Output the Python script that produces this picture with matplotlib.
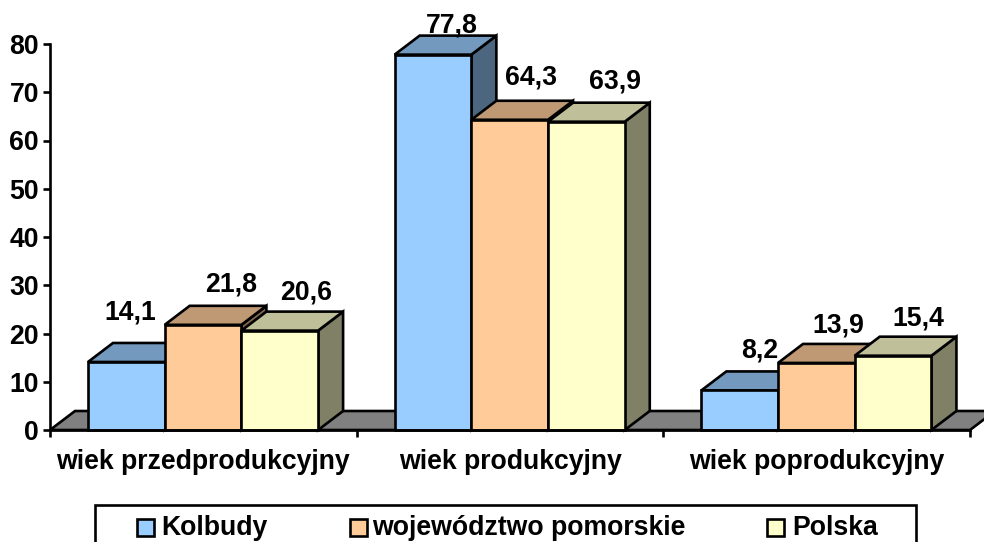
import numpy as np
import matplotlib
matplotlib.use('Agg')
import matplotlib.pyplot as plt
from matplotlib.patches import Polygon, Rectangle
from matplotlib.colors import to_rgb

plt.rcParams['font.family'] = ['Liberation Sans', 'DejaVu Sans']
plt.rcParams['font.weight'] = 'bold'

categories = ['wiek przedprodukcyjny', 'wiek produkcyjny', 'wiek poprodukcyjny']
series_names = ['Kolbudy', 'województwo pomorskie', 'Polska']
kolbudy = [14.1, 77.8, 8.2]
pomorskie = [21.8, 64.3, 13.9]
polska = [20.6, 63.9, 15.4]
value_labels = [['14,1', '77,8', '8,2'], ['21,8', '64,3', '13,9'], ['20,6', '63,9', '15,4']]
colors = ['#99CCFF', '#FFCC99', '#FFFFCC']

# label offsets from the front top left corner of each bar, in pixels
label_dx = [[42, 57, 58], [66, 60, 60], [65, 67, 64]]
label_dy = [[49, 29, 40], [40, 42, 37], [38, 40, 37]]

W, H = 984, 542
LW = 1.9
FS = 19.2
fig = plt.figure(figsize=(W / 100, H / 100), dpi=100)
ax = fig.add_axes([50 / W, 1 - 430 / H, 920 / W, 386 / H])
ax.set_xlim(0, 3)
ax.set_ylim(0, 80)

# fake 3d depth
dx = 25 * 3 / 920
dy = 19 * 80 / 386
bar_w = 76.7 * 3 / 920
margin = 38 * 3 / 920


def shade(color, f):
    return tuple(c * f for c in to_rgb(color))


def poly(points, color, z):
    ax.add_patch(Polygon(points, closed=True, facecolor=color, edgecolor='black',
                         linewidth=LW, joinstyle='miter', clip_on=False, zorder=z))


# floor
poly([(0, 0), (3, 0), (3 + dx, dy), (dx, dy)], '#808080', 1)

z = 2
for s, values in enumerate([kolbudy, pomorskie, polska]):
    for g, v in enumerate(values):
        x0 = g + margin + s * bar_w
        x1 = x0 + bar_w
        poly([(x1, 0), (x1 + dx, dy), (x1 + dx, v + dy), (x1, v)], shade(colors[s], 0.5), z)
        poly([(x0, v), (x1, v), (x1 + dx, v + dy), (x0 + dx, v + dy)], shade(colors[s], 0.75), z)
        poly([(x0, 0), (x1, 0), (x1, v), (x0, v)], colors[s], z)
        ax.annotate(value_labels[s][g], (x0, v),
                    xytext=(label_dx[s][g] * 0.72, label_dy[s][g] * 0.72),
                    textcoords='offset points', ha='center', va='center',
                    fontsize=FS, fontweight='bold', color='black',
                    annotation_clip=False, zorder=20)
    z += 1

for side in ['top', 'right']:
    ax.spines[side].set_visible(False)
for side in ['left', 'bottom']:
    ax.spines[side].set_linewidth(LW)
    ax.spines[side].set_zorder(10)

ax.set_yticks(np.arange(0, 81, 10))
ax.tick_params(axis='y', length=5, width=LW, labelsize=FS, pad=3)
ax.set_xticks([0, 1, 2, 3])
ax.set_xticklabels([])
ax.tick_params(axis='x', which='major', length=5, width=LW)
ax.set_xticks([0.5, 1.5, 2.5], minor=True)
ax.set_xticklabels(categories, minor=True, fontsize=FS, fontweight='bold')
ax.tick_params(axis='x', which='minor', length=0, pad=14)

# legend box runs off the bottom of the picture
fig.add_artist(Rectangle((95 / W, 1 - 560 / H), 821 / W, 55 / H, transform=fig.transFigure,
                         facecolor='white', edgecolor='black', linewidth=LW))
swatch_x = [137, 350, 767]
text_x = [161, 372, 792]
for name, c, sx, tx in zip(series_names, colors, swatch_x, text_x):
    fig.add_artist(Rectangle((sx / W, 1 - 536 / H), 17 / W, 17 / H, transform=fig.transFigure,
                             facecolor=c, edgecolor='black', linewidth=LW))
    fig.text(tx / W, 1 - 528 / H, name, fontsize=FS, fontweight='bold', va='center', ha='left')

fig.savefig('out.png', dpi=100)
